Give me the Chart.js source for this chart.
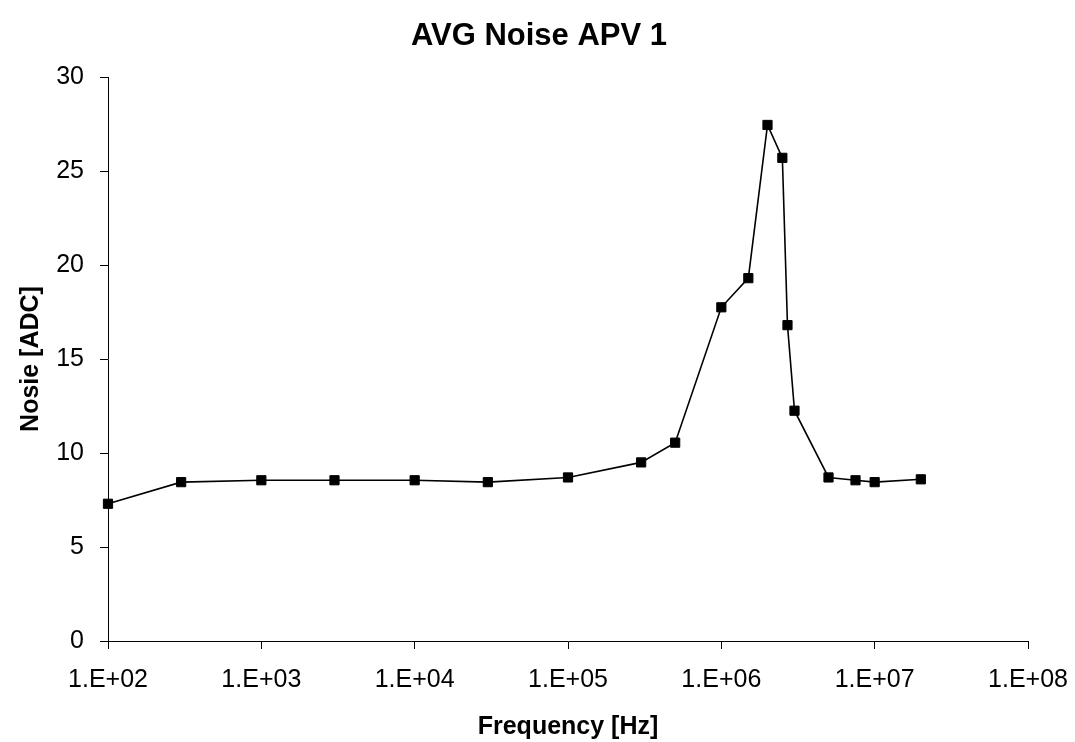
<!DOCTYPE html>
<html>
<head>
<meta charset="utf-8">
<script src="https://cdn.jsdelivr.net/npm/chart.js@4.4.0/dist/chart.umd.min.js"></script>
<style>
  html, body { margin: 0; padding: 0; background: #fff; }
  #wrap { width: 1075px; height: 742px; }
</style>
</head>
<body>
<div id="wrap"><canvas id="noise_chart"></canvas></div>
<script>
// Frequency in Hz and average noise in ADC counts
var frequencies = [1e2, 3e2, 1e3, 3e3, 1e4, 3e4, 1e5, 3e5, 5e5, 1e6, 1.5e6, 2e6, 2.5e6, 2.7e6, 3e6, 5e6, 7.5e6, 1e7, 2e7];
var noiseValues = [7.3, 8.45, 8.55, 8.55, 8.55, 8.45, 8.7, 9.5, 10.55, 17.75, 19.3, 27.45, 25.7, 16.8, 12.25, 8.7, 8.55, 8.45, 8.6];
var xTickValues = [1e2, 1e3, 1e4, 1e5, 1e6, 1e7, 1e8];
var yTickValues = [0, 5, 10, 15, 20, 25, 30];

var chartTitle = 'AVG Noise APV 1';
var fontFamily = "'Liberation Sans', Arial, sans-serif";

var points = frequencies.map(function (f, i) { return { x: f, y: noiseValues[i] }; });

// "1.E+02" style labels like the spreadsheet did
function sciLabel(value)
{
    var exp = Math.round(Math.log10(value));
    return "1.E+" + (exp < 10 ? "0" : "") + exp;
}

// The spreadsheet centred its title on the whole picture, not on the plot
var titlePlugin = {
    id: 'sheetTitle',
    afterDraw: function (chart)
    {
        var ctx = chart.ctx;
        ctx.save();
        ctx.fillStyle = '#000';
        ctx.font = "bold 31px " + fontFamily;
        ctx.textAlign = 'center';
        ctx.textBaseline = 'alphabetic';
        ctx.fillText(chartTitle, 539, 45);
        ctx.restore();
    }
};

new Chart(document.getElementById("noise_chart").getContext("2d"),
{
    type: 'line',
    data: {
        datasets: [{
            data: points,
            clip: false,
            borderColor: '#000',
            borderWidth: 1.6,
            backgroundColor: '#000',
            pointStyle: 'rect',
            pointRadius: 6.5,
            pointBorderWidth: 1,
            pointBorderColor: '#000',
            pointBackgroundColor: '#000',
            tension: 0
        }]
    },
    plugins: [titlePlugin],
    options: {
        responsive: true,
        maintainAspectRatio: false,
        animation: false,
        layout: {
            padding: { left: 0, right: 47, top: 77, bottom: 0 }
        },
        plugins: {
            legend: { display: false },
            tooltip: { enabled: false },
            title: { display: false }
        },
        scales: {
            x: {
                type: 'logarithmic',
                min: 1e2,
                max: 1e8,
                afterBuildTicks: function (axis)
                {
                    axis.ticks = xTickValues.map(function (v) { return { value: v }; });
                },
                afterFit: function (axis)
                {
                    // fixed box, the labels are allowed to hang over the ends
                    axis.height = 101;
                    axis.paddingLeft = 0;
                    axis.paddingRight = 0;
                },
                ticks: {
                    color: '#000',
                    autoSkip: false,
                    maxRotation: 0,
                    padding: 16,
                    font: { family: fontFamily, size: 25 },
                    callback: function (value) { return sciLabel(value); }
                },
                grid: {
                    drawOnChartArea: false,
                    drawTicks: true,
                    tickLength: 8,
                    color: '#000'
                },
                border: { display: true, color: '#000', width: 1 },
                title: {
                    display: true,
                    text: 'Frequency [Hz]',
                    color: '#000',
                    font: { family: fontFamily, size: 25, weight: 'bold' },
                    padding: { top: 17, bottom: 0 }
                }
            },
            y: {
                min: 0,
                max: 30,
                afterBuildTicks: function (axis)
                {
                    axis.ticks = yTickValues.map(function (v) { return { value: v }; });
                },
                afterFit: function (axis) { axis.width = 108; },
                ticks: {
                    color: '#000',
                    padding: 16,
                    font: { family: fontFamily, size: 25 }
                },
                grid: {
                    drawOnChartArea: false,
                    drawTicks: true,
                    tickLength: 8,
                    color: '#000'
                },
                border: { display: true, color: '#000', width: 1 },
                title: {
                    display: true,
                    text: 'Nosie [ADC]',
                    color: '#000',
                    font: { family: fontFamily, size: 25, weight: 'bold' },
                    padding: { top: 16, bottom: 0 }
                }
            }
        }
    }
});
</script>
</body>
</html>
